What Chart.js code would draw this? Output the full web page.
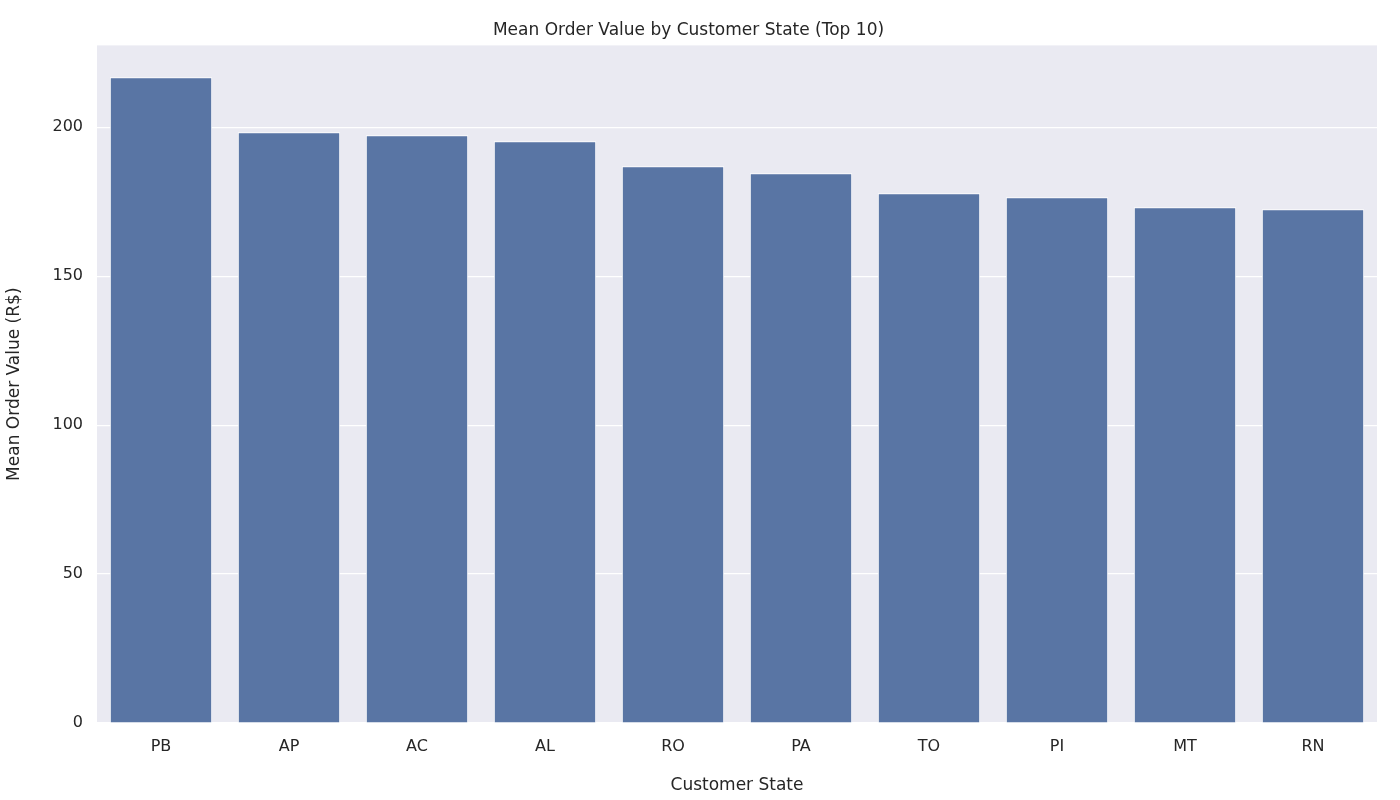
<!DOCTYPE html>
<html>
<head>
<meta charset="utf-8">
<script src="https://cdn.jsdelivr.net/npm/chart.js@4/dist/chart.umd.min.js"></script>
<style>
html, body { margin: 0; padding: 0; background: #fff; }
#wrap { width: 1400px; height: 800px; }
</style>
</head>
<body>
<div id="wrap"><canvas id="grafica"></canvas></div>
<script>
const estados = ['PB', 'AP', 'AC', 'AL', 'RO', 'PA', 'TO', 'PI', 'MT', 'RN'];
const valoresMedios = [216.8, 198.3, 197.3, 195.3, 186.9, 184.6, 177.9, 176.5, 173.2, 172.5];
const ticksY = [0, 50, 100, 150, 200];

const fuente = "'DejaVu Sans', sans-serif";
const texto = '#262626';

// fondo gris del area del grafico (estilo seaborn)
const fondoArea = {
    id: 'fondoArea',
    beforeDraw(chart) {
        const { ctx, chartArea: a } = chart;
        ctx.save();
        ctx.fillStyle = '#EAEAF2';
        ctx.fillRect(a.left, a.top, a.right - a.left, a.bottom - a.top);
        ctx.restore();
    }
};

new Chart(document.querySelector('#grafica'), {
    type: 'bar',
    data: {
        labels: estados,
        datasets: [{
            data: valoresMedios,
            backgroundColor: '#5975A4',
            borderColor: '#FFFFFF',
            borderWidth: 1,
            barPercentage: 0.8,
            categoryPercentage: 1.0
        }]
    },
    options: {
        responsive: true,
        maintainAspectRatio: false,
        animation: false,
        layout: { padding: { left: 0, right: 23, top: 0, bottom: 0 } },
        plugins: {
            legend: { display: false },
            tooltip: { enabled: false },
            title: {
                display: true,
                text: 'Mean Order Value by Customer State (Top 10)',
                color: texto,
                font: { family: fuente, size: 17, weight: 'normal', lineHeight: 1.2 },
                padding: { top: 20, bottom: 5 }
            }
        },
        scales: {
            x: {
                grid: { display: false },
                border: { display: false },
                ticks: { color: texto, font: { family: fuente, size: 16 }, padding: 6 },
                title: {
                    display: true, text: 'Customer State', color: texto,
                    font: { family: fuente, size: 17 }, padding: { top: 0 }
                },
                afterFit: (s) => { s.height = 77; }
            },
            y: {
                min: 0,
                max: 227.5,
                afterBuildTicks: (s) => { s.ticks = ticksY.map(v => ({ value: v })); },
                grid: { color: '#FFFFFF', lineWidth: 1.2, drawTicks: false },
                border: { display: false },
                ticks: { color: texto, font: { family: fuente, size: 16 }, padding: 14 },
                title: {
                    display: true, text: 'Mean Order Value (R$)', color: texto,
                    font: { family: fuente, size: 17 }, padding: { bottom: 4 }
                },
                afterFit: (s) => { s.width = 97; }
            }
        }
    },
    plugins: [fondoArea]
});
</script>
</body>
</html>
